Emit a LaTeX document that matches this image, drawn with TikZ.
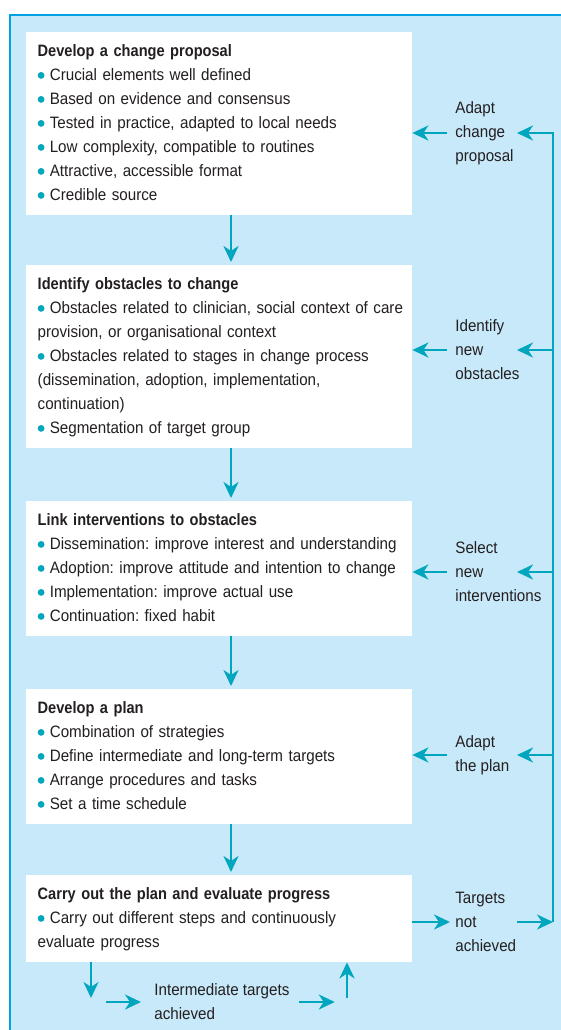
\documentclass[tikz,border=0pt]{standalone}
\usepackage{fontspec}
\setmainfont{Liberation Sans}[FakeStretch=0.92,BoldFeatures={FakeStretch=0.885}]
\usetikzlibrary{arrows.meta}

\definecolor{framefill}{RGB}{200,233,249}
\definecolor{framedraw}{RGB}{0,163,224}
\definecolor{arrowc}{RGB}{0,166,190}
\definecolor{textc}{RGB}{35,31,32}
\setlength{\parindent}{0pt}
\frenchspacing

\newcommand{\bul}{\tikz[baseline=-4.8pt]\fill[arrowc] (0,0) circle (3.4pt);\hspace{5.3pt}}
\newcommand{\topline}{\rule{0pt}{24pt}}
\newcommand{\botline}{\rule[-15pt]{0pt}{15pt}}

\tikzset{every picture/.style={line width=0.75pt},
	stepbox/.style={fill=white, anchor=north west, inner xsep=11.5pt, inner ysep=0pt, text width=363pt, align=left, text=textc, font=\fontsize{16.5pt}{24pt}\selectfont},
	sidelabel/.style={anchor=west, inner sep=0pt, align=left, text=textc, font=\fontsize{16.5pt}{24pt}\selectfont},
	flow/.style={draw=arrowc, line width=2.5pt, -{Stealth[length=16pt,width=15pt,inset=5pt]}}}

\begin{document}
\begin{tikzpicture}[x=1pt,y=1pt,yscale=-1]
	\useasboundingbox (0,0) rectangle (561,1030);
	\fill[white] (0,0) rectangle (561,1030);
	\clip (0,0) rectangle (561,1030);

	%Shape: Rectangle
	\draw [draw=framedraw, fill=framefill, line width=1.5pt] (10,15) rectangle (580,1050);

	% Text Node
	\node [stepbox] (prop) at (26,32) {\topline\textbf{Develop a change proposal}\\
		\bul Crucial elements well defined\\
		\bul Based on evidence and consensus\\
		\bul Tested in practice, adapted to local needs\\
		\bul Low complexity, compatible to routines\\
		\bul Attractive, accessible format\\
		\bul Credible source\botline};
	% Text Node
	\node [stepbox] (obst) at (26,265) {\topline\textbf{Identify obstacles to change}\\
		\mbox{\bul Obstacles related to clinician, social context of care}\\
		provision, or organisational context\\
		\bul Obstacles related to stages in change process\\
		(dissemination, adoption, implementation,\\
		continuation)\\
		\bul Segmentation of target group\botline};
	% Text Node
	\node [stepbox] (link) at (26,501) {\topline\textbf{Link interventions to obstacles}\\
		\mbox{\bul Dissemination: improve interest and understanding}\\
		\mbox{\bul Adoption: improve attitude and intention to change}\\
		\bul Implementation: improve actual use\\
		\bul Continuation: fixed habit\botline};
	% Text Node
	\node [stepbox] (plan) at (26,689) {\topline\textbf{Develop a plan}\\
		\bul Combination of strategies\\
		\bul Define intermediate and long-term targets\\
		\bul Arrange procedures and tasks\\
		\bul Set a time schedule\botline};
	% Text Node
	\node [stepbox] (carry) at (26,875) {\topline\textbf{Carry out the plan and evaluate progress}\\
		\bul Carry out different steps and continuously\\
		evaluate progress\botline};

	% Text Node
	\node [sidelabel] (adaptprop) at (455,133) {Adapt\\change\\proposal};
	% Text Node
	\node [sidelabel] (newobst) at (455,350) {Identify\\new\\obstacles};
	% Text Node
	\node [sidelabel] (newint) at (455,572) {Select\\new\\interventions};
	% Text Node
	\node [sidelabel] (adaptplan) at (455,755) {Adapt\\the plan};
	% Text Node
	\node [sidelabel] (notach) at (455,922) {Targets\\not\\achieved};
	% Text Node
	\node [sidelabel] (interach) at (154,1002) {Intermediate targets\\achieved};

	\coordinate (trunk) at (231,0);
	\coordinate (loopx) at (553,0);
	\coordinate (tipx) at (517,0);
	\coordinate (down) at (91,998);
	\coordinate (up) at (347,998);

	%Straight Lines
	\draw [flow, shorten >=3pt] (prop.south -| trunk) -- (obst.north -| trunk);
	\draw [flow, shorten >=3pt] (obst.south -| trunk) -- (link.north -| trunk);
	\draw [flow, shorten >=3pt] (link.south -| trunk) -- (plan.north -| trunk);
	\draw [flow, shorten >=3pt] (plan.south -| trunk) -- (carry.north -| trunk);

	%Straight Lines
	\draw [flow, shorten <=8pt] (adaptprop.west) -- (adaptprop.west -| prop.east);
	\draw [flow, shorten <=8pt] (newobst.west) -- (newobst.west -| obst.east);
	\draw [flow, shorten <=8pt] (newint.west) -- (newint.west -| link.east);
	\draw [flow, shorten <=8pt] (adaptplan.west) -- (adaptplan.west -| plan.east);
	\draw [flow, shorten >=5pt] (notach.west -| carry.east) -- (notach.west);

	%Straight Lines
	\draw [flow] (notach -| tipx) -- (notach -| loopx);
	\draw [flow] (notach -| loopx) -- (adaptprop -| loopx) -- (adaptprop -| tipx);
	\draw [flow] (newobst -| loopx) -- (newobst -| tipx);
	\draw [flow] (newint -| loopx) -- (newint -| tipx);
	\draw [flow] (adaptplan -| loopx) -- (adaptplan -| tipx);

	%Straight Lines
	\draw [flow] (carry.south -| down) -- (down);
	\draw [flow] ([xshift=-48pt]interach.west) -- ([xshift=-13pt]interach.west);
	\draw [flow] ([xshift=9pt]interach.east) -- ([xshift=45pt]interach.east);
	\draw [flow] (up) -- (up |- carry.south);

\end{tikzpicture}
\end{document}
